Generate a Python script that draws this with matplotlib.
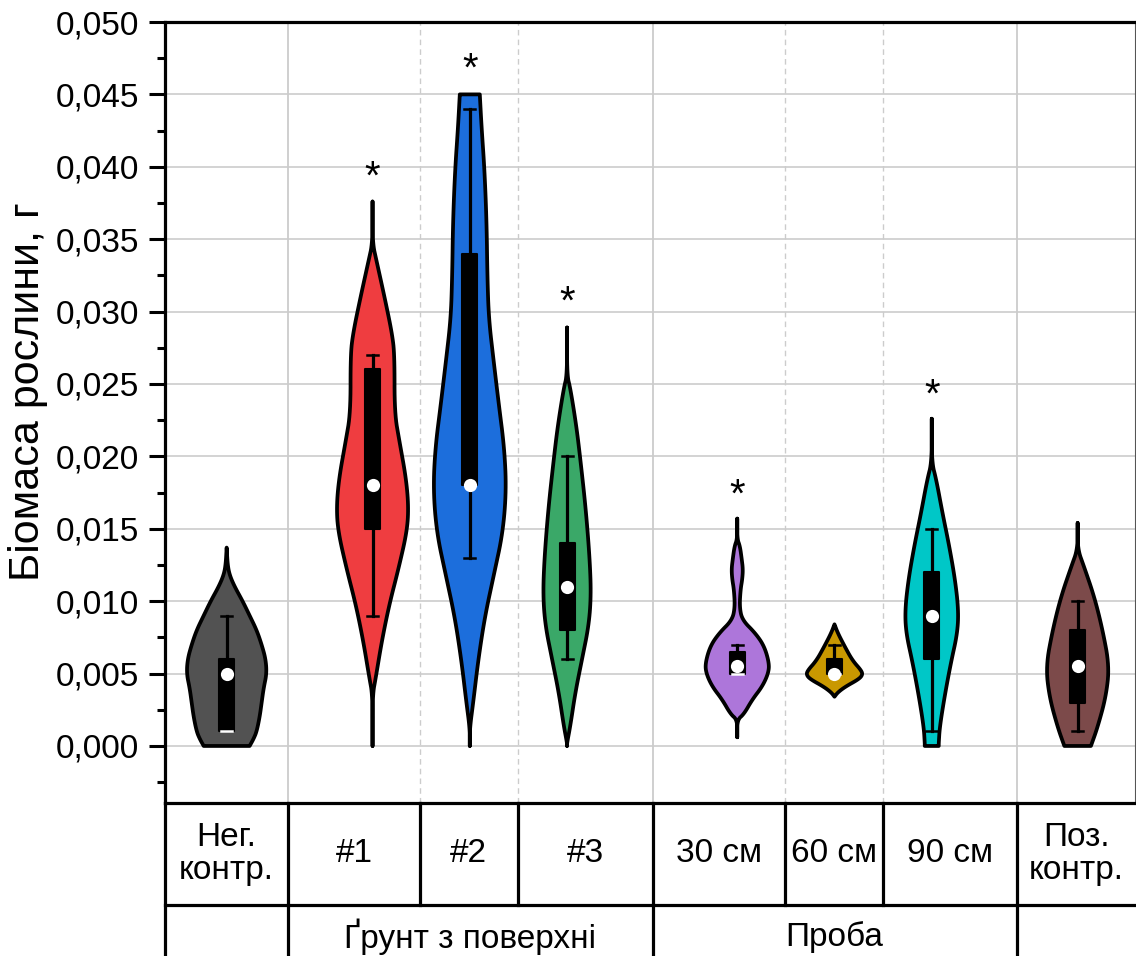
import matplotlib.pyplot as plt
import numpy as np

plt.rcParams['font.family'] = ['Liberation Sans', 'DejaVu Sans']

# categories, colours and positions on the x axis
labels = ['Нег.\nконтр.', '#1', '#2', '#3', '30 см', '60 см', '90 см', 'Поз.\nконтр.']
positions = [1, 2.5, 3.5, 4.5, 6.25, 7.25, 8.25, 9.75]
colors = ['#525252', '#ef3d40', '#1c6edc', '#3aa868', '#ad76da', '#c99800', '#00c7c7', '#7c4a4a']

# box statistics (g)
box_low = [0.001, 0.015, 0.018, 0.008, 0.005, 0.005, 0.006, 0.003]
box_high = [0.006, 0.026, 0.034, 0.014, 0.0065, 0.006, 0.012, 0.008]
whisk_low = [0.001, 0.009, 0.013, 0.006, 0.005, 0.005, 0.001, 0.001]
whisk_high = [0.009, 0.027, 0.044, 0.020, 0.007, 0.007, 0.015, 0.010]
centres = [0.005, 0.018, 0.018, 0.011, 0.0055, 0.005, 0.009, 0.0055]
stars = [None, 0.0397, 0.0472, 0.0311, 0.0178, None, 0.0247, None]

# violin outlines: biomass levels and half-width (relative density, px-like units)
neg_lv = [0.0, 0.0005, 0.001, 0.002, 0.003, 0.004, 0.005, 0.006, 0.007, 0.008, 0.009, 0.010, 0.011, 0.0118, 0.0125, 0.0137]
neg_w = [23, 27, 30, 33, 35, 37, 40, 39, 35, 30, 23, 16, 8, 3, 1, 0]
s1_lv = [0.0, 0.0035, 0.00475, 0.00725, 0.00975, 0.01225, 0.0148, 0.0165, 0.0185, 0.021, 0.023, 0.027, 0.0285, 0.031, 0.0335, 0.03475, 0.0376]
s1_w = [0, 0, 3.3, 9.3, 16.7, 26, 34.4, 36, 33.5, 27, 22, 22, 19.5, 12, 4, 0, 0]
s2_lv = [0.0, 0.0012, 0.003, 0.0059, 0.0089, 0.0118, 0.0147, 0.0177, 0.0206, 0.0236, 0.0265, 0.0295, 0.0324, 0.0362, 0.0398, 0.0427, 0.045]
s2_w = [0, 0, 3.4, 8.4, 15, 24, 33, 36.5, 34.5, 29, 24, 19, 17.6, 16.8, 14.7, 11.8, 10]
s3_lv = [0.0, 0.0002, 0.0014, 0.0037, 0.006, 0.0083, 0.0104, 0.0129, 0.0164, 0.0198, 0.0221, 0.0247, 0.0256, 0.0289]
s3_w = [0, 0, 3.3, 8.3, 15, 21.7, 24, 22.7, 18.7, 13.3, 9.3, 3.3, 0, 0]
d30_lv = [0.0006, 0.0018, 0.0022, 0.0032, 0.0041, 0.005, 0.0057, 0.0069, 0.0078, 0.0087, 0.0096, 0.0108, 0.0115, 0.0122, 0.0129, 0.0138, 0.0143, 0.0157]
d30_w = [0, 0, 6.7, 15, 25, 31, 32, 27, 18, 5, 2.3, 3.3, 5, 5.7, 4.5, 2.7, 0, 0]
d60_lv = [0.0034, 0.0037, 0.0041, 0.0046, 0.0049, 0.0052, 0.0059, 0.0069, 0.0078, 0.0084]
d60_w = [0, 3.3, 11, 24, 28, 27, 18, 10, 3.3, 0]
d90_lv = [0.0, 0.0002, 0.0013, 0.0034, 0.0057, 0.0078, 0.0094, 0.0115, 0.0138, 0.0161, 0.0184, 0.0196, 0.0226]
d90_w = [7, 7, 8, 12.8, 19, 25.7, 26.7, 23.3, 17.5, 10.7, 4.5, 0, 0]
poz_lv = [0.0, 0.0013, 0.0034, 0.0055, 0.008, 0.0103, 0.0124, 0.0136, 0.0154]
poz_w = [13.3, 20, 28.3, 31.7, 25, 16.7, 6.3, 0, 0]
profiles = [(neg_lv, neg_w), (s1_lv, s1_w), (s2_lv, s2_w), (s3_lv, s3_w),
            (d30_lv, d30_w), (d60_lv, d60_w), (d90_lv, d90_w), (poz_lv, poz_w)]

# table under the plot
cell_edges = [0.366, 1.63, 2.987, 3.994, 5.381, 6.738, 7.745, 9.122, 10.345]
groups = [(0.366, 1.63, ''), (1.63, 5.381, 'Ґрунт з поверхні'),
          (5.381, 9.122, 'Проба'), (9.122, 10.345, '')]


def chaikin(x, y, n=3):
    # corner cutting so the outline looks smooth; end points are kept
    for _ in range(n):
        qx = 0.75 * x[:-1] + 0.25 * x[1:]
        qy = 0.75 * y[:-1] + 0.25 * y[1:]
        rx = 0.25 * x[:-1] + 0.75 * x[1:]
        ry = 0.25 * y[:-1] + 0.75 * y[1:]
        x = np.concatenate([[x[0]], np.column_stack([qx, rx]).ravel(), [x[-1]]])
        y = np.concatenate([[y[0]], np.column_stack([qy, ry]).ravel(), [y[-1]]])
    return x, y


W, H = 1136, 956
fig = plt.figure(figsize=(W / 100, H / 100), dpi=100)
ax = fig.add_axes([165 / W, 1 - 803 / H, (1135.5 - 165) / W, (803 - 22) / H])
ax.set_xlim(cell_edges[0], cell_edges[-1])
ax.set_ylim(-0.00394, 0.050)

px = (cell_edges[-1] - cell_edges[0]) / (1135.5 - 165)  # data units per pixel
lw = 2.3

# grid
for v in np.arange(0, 0.0501, 0.005):
    ax.axhline(v, color='#d0d0d0', lw=1.3, zorder=0)
for i, e in enumerate(cell_edges[1:-1]):
    solid = e in (1.63, 5.381, 9.122)
    ax.axvline(e, color='#cccccc', lw=1.3 if solid else 1.0,
               ls='-' if solid else (0, (4, 3)), zorder=0)

# violins
for i, (lv, w) in enumerate(profiles):
    p = positions[i]
    hw, lvs = chaikin(np.array(w, float) * px, np.array(lv, float))
    xs = np.concatenate([p - hw, (p + hw)[::-1]])
    ys = np.concatenate([lvs, lvs[::-1]])
    ax.fill(xs, ys, facecolor=colors[i], edgecolor='black', lw=2.7,
            joinstyle='round', zorder=2)

    bw = 7.5 * px
    ax.add_patch(plt.Rectangle((p - bw, box_low[i]), 2 * bw, box_high[i] - box_low[i],
                               facecolor='black', edgecolor='black', lw=1.5,
                               joinstyle='round', zorder=3))
    cw = 5.5 * px
    for lo, hi in ((box_high[i], whisk_high[i]), (box_low[i], whisk_low[i])):
        cap_col = 'black'
        if hi != lo:
            ax.plot([p, p], [lo, hi], color='black', lw=lw, zorder=3)
        else:
            cap_col = 'white'
        ax.plot([p - cw, p + cw], [hi, hi], color=cap_col, lw=1.8, zorder=4)
    ax.plot(p, centres[i], 'o', color='white', ms=9.5, mec='none', zorder=5)
    if stars[i] is not None:
        ax.annotate('*', (p, stars[i]), xytext=(0, -7), textcoords='offset pixels',
                    ha='center', va='center', fontsize=29, zorder=5)

# axes styling
ax.set_xticks([])
ax.set_yticks(np.arange(0, 0.0501, 0.005))
ax.set_yticks(np.arange(-0.0025, 0.05, 0.005), minor=True)
ax.set_yticklabels([f'{v:.3f}'.replace('.', ',') for v in np.arange(0, 0.0501, 0.005)])
ax.tick_params(axis='y', which='major', length=11.5, width=2.2, labelsize=24, pad=7)
ax.tick_params(axis='y', which='minor', length=6, width=2.2)
for s in ['left', 'top', 'bottom']:
    ax.spines[s].set_linewidth(2.3)
ax.spines['right'].set_linewidth(1.5)
ax.spines['right'].set_color('#555555')

fig.text(28 / W, 1 - 392 / H, 'Біомаса рослини, г', rotation=90,
         ha='center', va='center', fontsize=31)

# table rows
tr = ax.get_xaxis_transform()
row1 = -(905 - 803) / (803 - 22)
row2 = -(990 - 803) / (803 - 22)
ax.plot([cell_edges[0], cell_edges[-1]], [row1, row1], color='black', lw=lw,
        transform=tr, clip_on=False)
ax.plot([cell_edges[0], cell_edges[0]], [0, row2], color='black', lw=lw,
        transform=tr, clip_on=False)
for e in cell_edges[1:-1]:
    ax.plot([e, e], [0, row1], color='black', lw=lw, transform=tr, clip_on=False)
for i, lab in enumerate(labels):
    xc = (cell_edges[i] + cell_edges[i + 1]) / 2
    ax.text(xc, -(854 - 803) / (803 - 22), lab, transform=tr, ha='center', va='center',
            fontsize=24, linespacing=1.05)
for a, b, name in groups:
    if a != cell_edges[0]:
        ax.plot([a, a], [row1, row2], color='black', lw=lw, transform=tr, clip_on=False)
    ax.text((a + b) / 2, -(937 - 803) / (803 - 22), name, transform=tr,
            ha='center', va='center', fontsize=24)

fig.savefig('out.png', dpi=100)
